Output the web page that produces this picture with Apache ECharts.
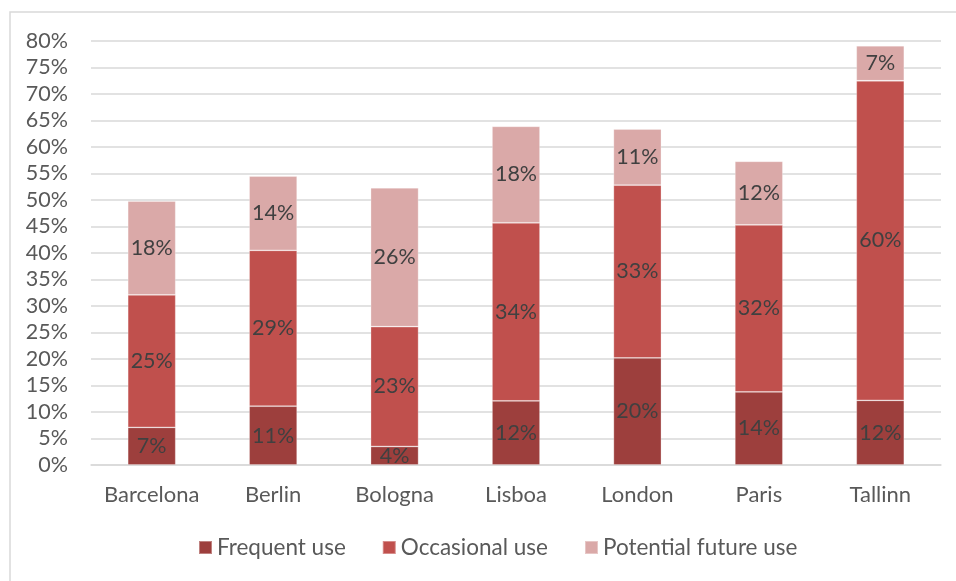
<!DOCTYPE html>
<html>
<head>
<meta charset="utf-8">
<script src="https://cdn.jsdelivr.net/npm/echarts@6/dist/echarts.min.js"></script>
<style>
  html, body { margin: 0; padding: 0; background: #ffffff; }
  #chart { width: 956px; height: 581px; }
</style>
</head>
<body>
<div id="chart"></div>
<script>
// Cities on the horizontal axis
const cities = ['Barcelona', 'Berlin', 'Bologna', 'Lisboa', 'London', 'Paris', 'Tallinn'];

// Share of respondents (%) per usage level
const frequentUse = [7.1, 11.1, 3.5, 12.1, 20.2, 13.8, 12.2];
const occasionalUse = [25.0, 29.4, 22.6, 33.6, 32.6, 31.5, 60.3];
const potentialFutureUse = [17.7, 14.0, 26.2, 18.2, 10.6, 12.0, 6.6];

const seriesNames = ['Frequent use', 'Occasional use', 'Potential future use'];
const seriesColors = ['#9d3f3d', '#c0504d', '#daa9a8'];

const FONT = 'Lato, "Open Sans", sans-serif';

const chart = echarts.init(document.getElementById('chart'), null, { renderer: 'canvas' });

function makeSeries(name, data, color) {
  return {
    name: name,
    type: 'bar',
    stack: 'total',
    data: data,
    barWidth: 48,
    itemStyle: { color: color, borderColor: 'rgba(255,255,255,0.35)', borderWidth: 0.8 },
    label: {
      show: true,
      position: 'inside',
      color: '#404040',
      fontFamily: FONT,
      fontSize: 21.5,
      formatter: p => Math.round(p.value) + '%'
    },
    emphasis: { disabled: true }
  };
}

chart.setOption({
  animation: false,
  backgroundColor: '#ffffff',
  graphic: [{
    type: 'rect',
    shape: { x: 10, y: 12, width: 1000, height: 700 },
    style: { fill: 'none', stroke: '#d9d9d9', lineWidth: 1.5 },
    silent: true
  }],
  grid: { left: 91, right: 15, top: 41, bottom: 116 },
  legend: {
    data: seriesNames,
    bottom: 17,
    left: 193,
    itemWidth: 13,
    itemHeight: 13,
    itemGap: 36,
    icon: 'rect',
    textStyle: { color: '#595959', fontFamily: FONT, fontSize: 22.5 }
  },
  xAxis: {
    type: 'category',
    data: cities,
    axisLine: { lineStyle: { color: '#d9d9d9', width: 1.5 } },
    axisTick: { show: false },
    axisLabel: { color: '#595959', fontFamily: FONT, fontSize: 22, margin: 19, interval: 0 }
  },
  yAxis: {
    type: 'value',
    min: 0,
    max: 80,
    interval: 5,
    axisLine: { show: false },
    axisTick: { show: false },
    splitLine: { lineStyle: { color: '#d9d9d9', width: 1.5 } },
    axisLabel: { color: '#595959', fontFamily: FONT, fontSize: 21.5, margin: 23, formatter: '{value}%' }
  },
  series: [
    makeSeries(seriesNames[0], frequentUse, seriesColors[0]),
    makeSeries(seriesNames[1], occasionalUse, seriesColors[1]),
    makeSeries(seriesNames[2], potentialFutureUse, seriesColors[2])
  ]
});
</script>
</body>
</html>
